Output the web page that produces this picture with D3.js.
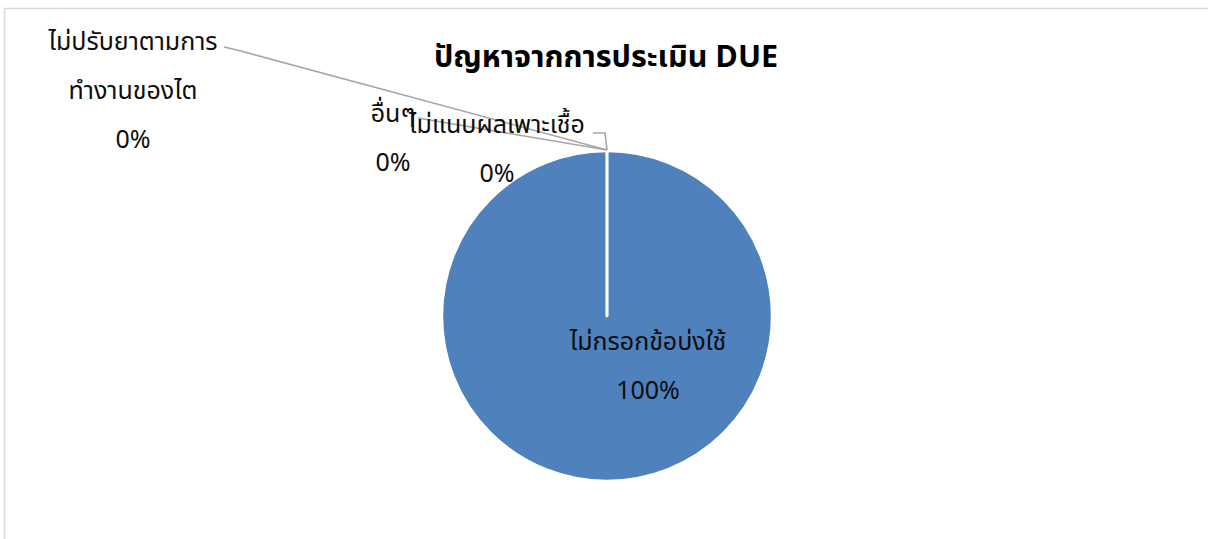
<!DOCTYPE html>
<html><head><meta charset="utf-8">
<script src="https://cdn.jsdelivr.net/npm/d3@7"></script>
<style>body{margin:0;background:#fff}text{font-family:"Noto Sans Thai","Noto Sans",sans-serif}</style>
</head><body><svg id="c" width="1208" height="539"></svg>
<script>
// ---- data ----
const categories=["ไม่กรอกข้อบ่งใช้","ไม่ปรับยาตามการทำงานของไต","อื่นๆ","ไม่แนบผลเพาะเชื้อ"];
const values=[100,0,0,0];
const labelLines=[["ไม่กรอกข้อบ่งใช้"],["ไม่ปรับยาตามการ","ทำงานของไต"],["อื่นๆ"],["ไม่แนบผลเพาะเชื้อ"]];
const title="ปัญหาจากการประเมิน DUE";

// ---- layout (label placements, not data) ----
const cx=607, cy=316, R=165;
const labelPos=[
  {x:648,y:350},
  {x:133,y:50,line:[[224,47],[237,50]]},
  {x:393,y:122,line:[[418,118]]},
  {x:497,y:133,line:[[593,133],[605,133]]}
];
const lineGap=49, fs=25;

const svg=d3.select("#c");
svg.append("rect").attr("x",4.5).attr("y",8.5).attr("width",1240).attr("height",600)
  .attr("fill","#fff").attr("stroke","#d9d9d9").attr("stroke-width",1.5);

svg.append("text").attr("x",606).attr("y",67).attr("text-anchor","middle")
  .attr("font-size",30.5).attr("font-weight","bold").attr("fill","#000").text(title);

const total=d3.sum(values);
const data=categories.map((c,i)=>({c,v:values[i],i}));
const pie=d3.pie().sort(null).value(d=>d.v);
const arcs=pie(data);
const arc=d3.arc().innerRadius(0).outerRadius(R);
const g=svg.append("g").attr("transform",`translate(${cx},${cy})`);
g.selectAll("path").data(arcs).join("path").attr("d",arc)
  .attr("fill","#4f81bd").attr("stroke","#fff").attr("stroke-width",2.5).attr("stroke-linejoin","round");

const fmt=d3.format(".0%");
arcs.forEach((a,k)=>{
  const p=labelPos[k];
  if(p.line){
    const ang=a.endAngle;
    const tip=[cx+R*Math.sin(ang), cy-R*Math.cos(ang)-1];
    svg.append("path").attr("d",d3.line()(p.line.concat([tip])))
      .attr("fill","none").attr("stroke","#a6a6a6").attr("stroke-width",1.6);
  }
});
arcs.forEach((a,k)=>{
  const p=labelPos[k];
  const lines=labelLines[k].concat([fmt(a.data.v/total)]);
  lines.forEach((t,j)=>{
    svg.append("text").attr("x",p.x).attr("y",p.y+j*lineGap).attr("text-anchor","middle")
      .attr("font-size",fs).attr("fill","#0d0d0d").text(t);
  });
});
</script></body></html>
